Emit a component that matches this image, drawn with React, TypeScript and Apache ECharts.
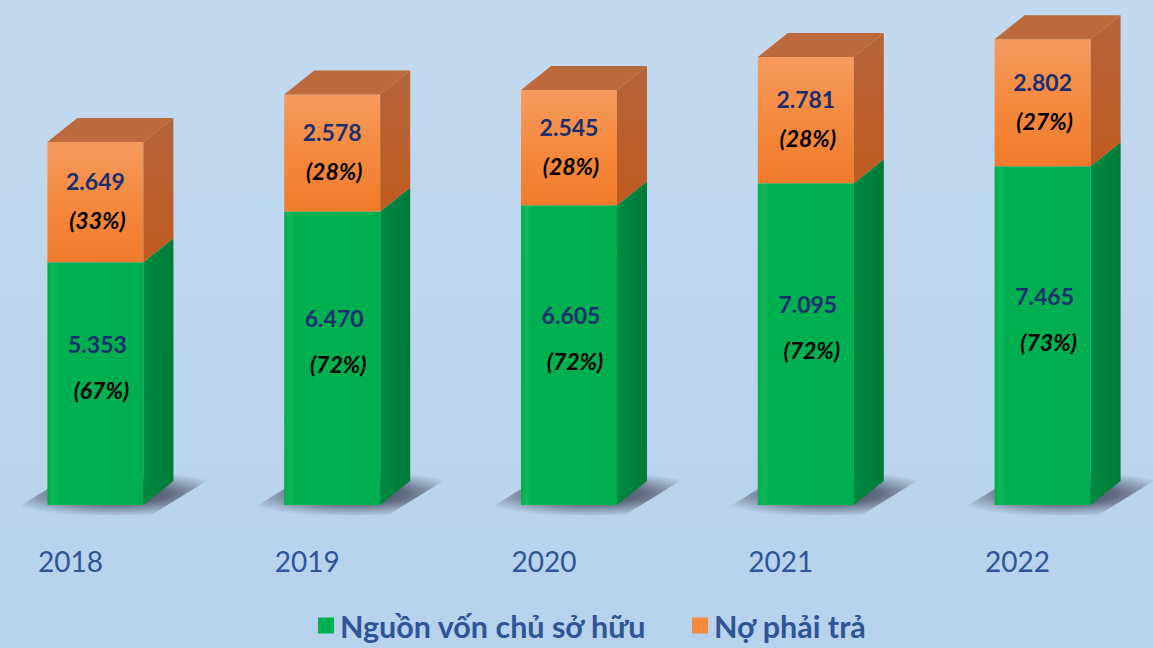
import React, { useEffect, useRef } from "react";
import * as echarts from "echarts";

const years = ["2018", "2019", "2020", "2021", "2022"];
const equity = [5353, 6470, 6605, 7095, 7465];
const liabilities = [2649, 2578, 2545, 2781, 2802];
const equityPct = ["(67%)", "(72%)", "(72%)", "(72%)", "(73%)"];
const liabPct = ["(33%)", "(28%)", "(28%)", "(28%)", "(27%)"];
const seriesNames = ["Nguồn vốn chủ sở hữu", "Nợ phải trả"];

const fmt = (v: number) => {
  const th = Math.floor(v / 1000);
  const rest = String(v % 1000).padStart(3, "0");
  return th + "." + rest;
};

const DX = 30;
const DY = -24;
const FONT = "Lato";
const VALUE_COLOR = "#1B2F6E";

function geom(api: any, i: number, lo: number, hi: number) {
  const p0 = api.coord([i, lo]);
  const p1 = api.coord([i, hi]);
  const cx = p0[0];
  const fl = cx - 63;
  const fr = cx + 33;
  return { fl, fr, yb: p0[1], yt: p1[1], fc: (fl + fr) / 2 };
}

export default function App() {
  const ref = useRef<HTMLDivElement>(null);
  useEffect(() => {
    if (!ref.current) return;
    const chart = echarts.init(ref.current, undefined, { renderer: "svg" });
    const G = echarts.graphic as any;

    const renderEquity = (params: any, api: any) => {
      const i = api.value(0);
      const v = api.value(1);
      const { fl, fr, yb, yt, fc } = geom(api, i, 0, v);
      const mid = (yb + yt) / 2;
      return {
        type: "group",
        children: [
          {
            type: "polygon",
            shape: {
              points: [
                [fl - 42, yb + 10],
                [fr + 8, yb + 10],
                [fr + DX + 46, yb + DY - 8],
                [fl + DX - 4, yb + DY - 8],
              ],
            },
            style: {
              fill: new G.RadialGradient(0.52, 0.5, 0.55, [
                { offset: 0, color: "rgba(40,40,60,0.85)" },
                { offset: 0.45, color: "rgba(40,40,60,0.6)" },
                { offset: 0.8, color: "rgba(40,40,60,0.2)" },
                { offset: 1, color: "rgba(40,40,60,0)" },
              ]),
            },
          },
          {
            type: "rect",
            shape: { x: fl, y: yt, width: fr - fl, height: yb - yt },
            style: {
              fill: new G.LinearGradient(0, 0, 1, 0, [
                { offset: 0, color: "#00AC4E" },
                { offset: 0.06, color: "#0DB95A" },
                { offset: 0.12, color: "#00B050" },
                { offset: 1, color: "#00AE4F" },
              ]),
            },
          },
          {
            type: "polygon",
            shape: {
              points: [
                [fr, yb],
                [fr, yt],
                [fr + DX, yt + DY],
                [fr + DX, yb + DY],
              ],
            },
            style: {
              fill: new G.LinearGradient(0, 0, 1, 0, [
                { offset: 0, color: "#008A40" },
                { offset: 1, color: "#007A38" },
              ]),
            },
          },
          {
            type: "text",
            style: {
              x: fc + 2,
              y: mid - 40,
              text: fmt(v),
              fill: VALUE_COLOR,
              fontFamily: FONT,
              fontWeight: "bold",
              fontSize: 23,
              align: "center",
              verticalAlign: "middle",
            },
          },
          {
            type: "text",
            style: {
              x: fc + 6,
              y: mid + 6,
              text: equityPct[i],
              fill: "#000000",
              fontFamily: FONT,
              fontWeight: "bold",
              fontStyle: "italic",
              fontSize: 23,
              align: "center",
              verticalAlign: "middle",
            },
          },
        ],
      };
    };

    const renderLiab = (params: any, api: any) => {
      const i = api.value(0);
      const lo = api.value(1);
      const v = api.value(2);
      const { fl, fr, yb, yt, fc } = geom(api, i, lo, lo + v);
      const mid = (yb + yt) / 2;
      return {
        type: "group",
        children: [
          {
            type: "rect",
            shape: { x: fl, y: yt, width: fr - fl, height: yb - yt },
            style: {
              fill: new G.LinearGradient(0, 0, 0, 1, [
                { offset: 0, color: "#F59A5F" },
                { offset: 0.5, color: "#F58A3E" },
                { offset: 1, color: "#F07A2A" },
              ]),
            },
          },
          {
            type: "polygon",
            shape: {
              points: [
                [fr, yb],
                [fr, yt],
                [fr + DX, yt + DY],
                [fr + DX, yb + DY],
              ],
            },
            style: {
              fill: new G.LinearGradient(0, 0, 0, 1, [
                { offset: 0, color: "#B4643A" },
                { offset: 1, color: "#C05A20" },
              ]),
            },
          },
          {
            type: "polygon",
            shape: {
              points: [
                [fl, yt],
                [fl + DX, yt + DY],
                [fr + DX, yt + DY],
                [fr, yt],
              ],
            },
            style: { fill: "#BC6A3C" },
          },
          {
            type: "text",
            style: {
              x: fc,
              y: mid - 21,
              text: fmt(v),
              fill: VALUE_COLOR,
              fontFamily: FONT,
              fontWeight: "bold",
              fontSize: 23,
              align: "center",
              verticalAlign: "middle",
            },
          },
          {
            type: "text",
            style: {
              x: fc + 2,
              y: mid + 18,
              text: liabPct[i],
              fill: "#000000",
              fontFamily: FONT,
              fontWeight: "bold",
              fontStyle: "italic",
              fontSize: 23,
              align: "center",
              verticalAlign: "middle",
            },
          },
        ],
      };
    };

    chart.setOption({
      animation: false,
      backgroundColor: new G.LinearGradient(0, 0, 0, 1, [
        { offset: 0, color: "#C3D9EF" },
        { offset: 1, color: "#B6D2EC" },
      ]),
      grid: { left: 0, right: 0, top: 6, bottom: 143, containLabel: false },
      legend: {
        bottom: 7,
        left: 326,
        padding: 0,
        itemWidth: 16,
        itemHeight: 16,
        itemGap: 45,
        icon: "rect",
        data: seriesNames,
        textStyle: {
          fontFamily: FONT,
          fontWeight: "bold",
          fontSize: 30.5,
          color: "#2F5597",
          padding: [0, 0, 0, 1],
        },
      },
      xAxis: {
        type: "category",
        data: years,
        axisLine: { show: false },
        axisTick: { show: false },
        axisLabel: {
          fontFamily: FONT,
          fontSize: 28,
          color: "#2F5597",
          margin: 42,
          padding: [0, 80, 0, 0],
        },
      },
      yAxis: { type: "value", min: 0, max: 11000, show: false },
      series: [
        {
          name: seriesNames[0],
          type: "custom",
          clip: false,
          itemStyle: { color: "#00B050" },
          renderItem: renderEquity,
          data: equity.map((v, i) => [i, v]),
          encode: { x: 0, y: 1 },
        },
        {
          name: seriesNames[1],
          type: "custom",
          clip: false,
          itemStyle: { color: "#F58A3E" },
          renderItem: renderLiab,
          data: liabilities.map((v, i) => [i, equity[i], v]),
          encode: { x: 0, y: [1, 2] },
        },
      ],
    });
    return () => chart.dispose();
  }, []);
  return (
    <div
      ref={ref}
      style={{ position: "fixed", left: -8, top: 0, width: 1184, height: 648 }}
    />
  );
}
